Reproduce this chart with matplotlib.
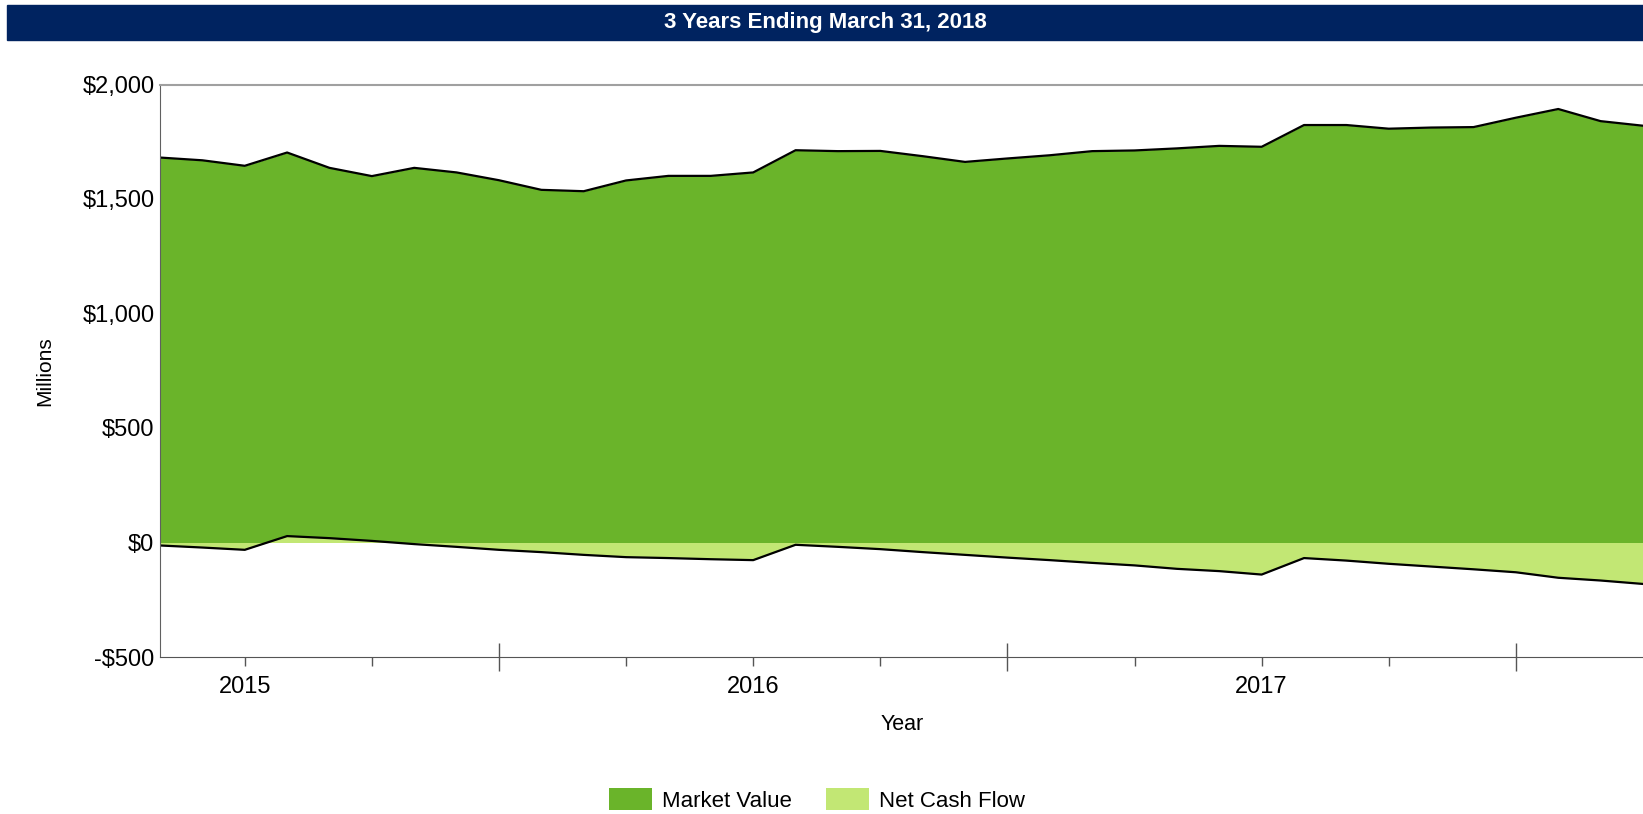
import matplotlib
matplotlib.use("Agg")
import matplotlib.pyplot as plt
from matplotlib.patches import Rectangle, Patch
import numpy as np

plt.rcParams['font.family'] = ['Liberation Sans', 'DejaVu Sans']

title = "3 Years Ending March 31, 2018"

# monthly points, 36 months
market_value = [1681, 1669, 1645, 1703, 1636, 1600, 1636, 1616, 1582, 1540,
                 1534, 1581, 1601, 1601, 1616, 1713, 1709, 1710, 1687, 1662,
                 1677, 1691, 1709, 1712, 1721, 1732, 1728, 1823, 1823, 1807,
                 1812, 1814, 1855, 1893, 1840, 1820]
net_cash_flow = [-13, -22, -32, 28, 19, 7, -7, -19, -32, -42,
                 -54, -64, -68, -73, -77, -10, -19, -29, -42, -54,
                 -66, -77, -89, -100, -115, -125, -140, -68, -79, -93,
                 -105, -117, -130, -154, -166, -181]

year_labels = ["2015", "2016", "2017"]
year_pos = [2, 14, 26]
minor_pos = [5, 11, 17, 23, 29]
long_pos = [8, 20, 32]

y_ticks = [-500, 0, 500, 1000, 1500, 2000]
y_labels = ["-$500", "$0", "$500", "$1,000", "$1,500", "$2,000"]

dark_green = "#6AB42A"
light_green = "#C2E774"
navy = "#002360"

x = np.arange(len(market_value))

fig = plt.figure(figsize=(16.43, 8.14), dpi=100)
ax = fig.add_axes([160/1643, 1-657/814, 1-160/1643, (657-84.5)/814])

ax.fill_between(x, 0, market_value, color=dark_green, lw=0)
ax.plot(x, market_value, color="black", lw=1.6)
ax.fill_between(x, 0, net_cash_flow, color=light_green, lw=0)
ax.plot(x, net_cash_flow, color="black", lw=1.6)

ax.set_xlim(0, len(x) - 1)
ax.set_ylim(-500, 2000)

ax.set_yticks(y_ticks)
ax.set_yticklabels(y_labels, fontsize=17)
ax.tick_params(axis="y", length=0, pad=4)

ax.set_xticks(year_pos)
ax.set_xticklabels(year_labels, fontsize=17)
ax.set_xticks(minor_pos, minor=True)
ax.tick_params(axis="x", which="both", length=6.5, width=1, color="#555555", pad=7)

sec = ax.secondary_xaxis("bottom")
sec.set_xticks(long_pos)
sec.set_xticklabels([])
sec.tick_params(axis="x", direction="inout", length=20, width=1, color="#555555")
sec.spines["bottom"].set_visible(False)

ax.spines["right"].set_visible(False)
ax.spines["top"].set_color("#A0A0A0")
ax.spines["top"].set_linewidth(1.5)
ax.spines["left"].set_color("#606060")
ax.spines["bottom"].set_color("#555555")

# title bar
fig.patches.append(Rectangle((7/1643, 1-40/814), 1-7/1643, 35/814,
                             transform=fig.transFigure, color=navy, zorder=0))
fig.text(825/1643, 1-22.5/814, title, color="white", fontsize=16,
         fontweight="bold", ha="center", va="center")

fig.text(45/1643, 1-371/814, "Millions", rotation=90, fontsize=15,
         ha="center", va="center")
fig.text(902/1643, 1-725/814, "Year", fontsize=15.5, ha="center", va="center")

handles = [Patch(facecolor=dark_green, edgecolor="none", label="Market Value"),
           Patch(facecolor=light_green, edgecolor="none", label="Net Cash Flow")]
fig.legend(handles=handles, loc="center", bbox_to_anchor=(817/1643, 1-800/814),
           ncol=2, frameon=False, fontsize=16, handlelength=1.95, handleheight=1.1,
           handletextpad=0.45, columnspacing=1.5, borderpad=0)

fig.savefig("out.png", dpi=100)
